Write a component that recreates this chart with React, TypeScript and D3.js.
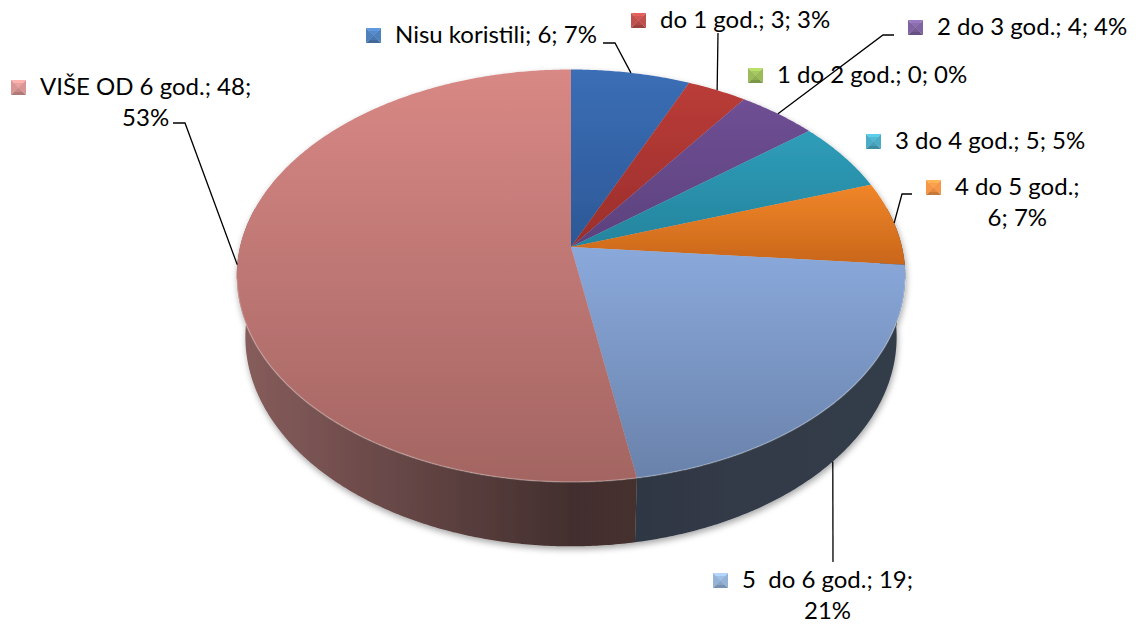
import React from "react";
import * as d3 from "d3";

// podaci s grafikona
const categories = [
  "Nisu koristili",
  "do 1 god.",
  "1 do 2 god.",
  "2 do 3 god.",
  "3 do 4 god.",
  "4 do 5 god.",
  "5  do 6 god.",
  "VIŠE OD 6 god.",
];
const values = [6, 3, 0, 4, 5, 6, 19, 48];

// boje (gornja ploha: vrh / dno gradijenta, bok)
const topColors = ["#3B6EB6", "#BA3C38", "#9BBB59", "#6F4F94", "#2F9DB9", "#F18629", "#8AA9DB", "#D88885"];
const bottomColors = ["#2C5896", "#9A2E2B", "#7E9A45", "#5C417D", "#24849D", "#C8661A", "#6982AB", "#A36562"];
const sideColors = ["#4F81BD", "#C0504D", "#9BBB59", "#8064A2", "#4BACC6", "#F79646", "#95B3D7", "#D99694"];

// raspored oznaka: x teksta, bazna linija, gdje se lomi u dva reda, početak linije vodilice
const labelLayout = [
  { tx: 395, ty: 43, split: "none", leader: [[603, 43], [615, 43]], edge: "top" },
  { tx: 660, ty: 28, split: "none", leader: [[718, 33]], edge: "top" },
  { tx: 777, ty: 83, split: "none", leader: null, edge: "top" },
  { tx: 937, ty: 35, split: "none", leader: [[894, 35], [883, 35]], edge: "top" },
  { tx: 895, ty: 149, split: "none", leader: null, edge: "top" },
  { tx: 955, ty: 195, split: "name", leader: [[912, 194], [902, 194]], edge: "top" },
  { tx: 742, ty: 588, split: "value", leader: [[833, 562]], edge: "bottom" },
  { tx: 40, ty: 95, split: "value", leader: [[173, 123], [185, 123]], edge: "top" },
];

const W = 1139;
const H = 624;
const CX = 571;
const CY = 247;
const F = 1880;
const DIST = 5.68;
const SIN = 0.611;
const COS = Math.sqrt(1 - SIN * SIN);
const THICK = 0.241;
const FONT = "Lato, 'Open Sans', sans-serif";

// perspektivna projekcija točke na disku
function project(a: number, r: number, y: number): [number, number] {
  const X = r * Math.sin(a);
  const Z = r * Math.cos(a);
  const depth = DIST - y * SIN + Z * COS;
  return [CX + (F * X) / depth, CY - (F * (y * COS + Z * SIN)) / depth];
}

function shade(c: string, f: number) {
  const rgb = d3.rgb(c);
  return d3.rgb(rgb.r * f, rgb.g * f, rgb.b * f).formatHex();
}

function arcPoints(a0: number, a1: number, y: number) {
  const n = Math.max(2, Math.ceil((a1 - a0) / (Math.PI / 360)));
  return d3.range(n + 1).map((i) => project(a0 + ((a1 - a0) * i) / n, 1, y));
}

const Marker = ({ x, y, color }: { x: number; y: number; color: string }) => {
  const s = 15;
  const c = d3.rgb(color);
  const light = c.brighter(0.5).formatHex();
  const dark = c.darker(0.6).formatHex();
  const mid = c.formatHex();
  const cx = x + s / 2;
  const cy = y + s / 2;
  return (
    <g>
      <polygon points={`${x},${y} ${x + s},${y} ${cx},${cy}`} fill={light} />
      <polygon points={`${x},${y} ${cx},${cy} ${x},${y + s}`} fill={mid} />
      <polygon points={`${x + s},${y} ${cx},${cy} ${x + s},${y + s}`} fill={mid} />
      <polygon points={`${x},${y + s} ${cx},${cy} ${x + s},${y + s}`} fill={dark} />
      <rect x={x + 3} y={y + 3} width={s - 6} height={s - 6} fill={mid} opacity={0.6} />
    </g>
  );
};

// drugi red centriran ispod prvog
function TwoLines({ x, y, first, second }: { x: number; y: number; first: string; second: string }) {
  const ref = React.useRef<SVGTextElement>(null);
  const [w, setW] = React.useState(0);
  React.useEffect(() => {
    if (ref.current) setW(ref.current.getComputedTextLength());
  }, [first]);
  return (
    <g>
      <text ref={ref} x={x} y={y} style={{ whiteSpace: "pre" }}>
        {first}
      </text>
      <text x={x + w / 2} y={y + 31} textAnchor="middle" opacity={w ? 1 : 0}>
        {second}
      </text>
    </g>
  );
}

export default function App() {
  const total = d3.sum(values);
  const slices = d3
    .pie<number>()
    .sort(null)
    .value((d) => d)(values);

  const line = d3.line<[number, number]>();

  const lo = Math.PI / 2 - 0.2;
  const hi = (3 * Math.PI) / 2 + 0.2;
  const sides = slices
    .map((s, i) => {
      const a = Math.max(s.startAngle, lo);
      const b = Math.min(s.endAngle, hi);
      if (b - a <= 0) return null;
      const pts = [...arcPoints(a, b, 0), ...arcPoints(a, b, -THICK).reverse()];
      return { d: line(pts) + "Z", i };
    })
    .filter(Boolean) as { d: string; i: number }[];

  const apex = project(0, 0, 0);
  const tops = slices.map((s, i) => {
    if (s.endAngle - s.startAngle <= 0) return null;
    const pts = [apex, ...arcPoints(s.startAngle, s.endAngle, 0)];
    return { d: line(pts) + "Z", i };
  });

  const rim = line(arcPoints(Math.PI * 0.55, Math.PI * 1.45, 0));
  const left = project((3 * Math.PI) / 2, 1, 0)[0];
  const right = project(Math.PI / 2, 1, 0)[0];

  return (
    <svg width={W} height={H} style={{ position: "absolute", left: 0, top: 0, background: "#fff" }}>
      <defs>
        {categories.map((c, i) => (
          <linearGradient key={c} id={`g${i}`} x1="0" y1="0" x2="0" y2="1">
            <stop offset="0" stopColor={topColors[i]} />
            <stop offset="1" stopColor={bottomColors[i]} />
          </linearGradient>
        ))}
        {categories.map((c, i) => (
          <linearGradient key={c} id={`s${i}`} gradientUnits="userSpaceOnUse" x1={left} y1="0" x2={right} y2="0">
            <stop offset="0" stopColor={shade(sideColors[i], 0.62)} />
            <stop offset="0.5" stopColor={shade(sideColors[i], 0.31)} />
            <stop offset="1" stopColor={shade(sideColors[i], 0.34)} />
          </linearGradient>
        ))}
        <filter id="shadow" x="-10%" y="-10%" width="120%" height="130%">
          <feDropShadow dx="1" dy="3" stdDeviation="3" floodColor="#000" floodOpacity="0.35" />
        </filter>
      </defs>

      <g filter="url(#shadow)">
        {sides.map((s) => (
          <path key={s.i} d={s.d} fill={`url(#s${s.i})`} />
        ))}
        {tops.map((t) => t && <path key={t.i} d={t.d} fill={`url(#g${t.i})`} />)}
      </g>
      <path d={rim ?? ""} fill="none" stroke="#fff" strokeOpacity={0.25} strokeWidth={1.5} />

      {/* linije vodilice */}
      {slices.map((s, i) => {
        const lay = labelLayout[i];
        if (!lay.leader) return null;
        const mid = (s.startAngle + s.endAngle) / 2;
        const end = project(mid, 1, lay.edge === "bottom" ? -THICK : 0);
        const pts = [...(lay.leader as [number, number][]), end];
        return <path key={i} d={line(pts) ?? ""} fill="none" stroke="#000" strokeWidth={1.3} />;
      })}

      {/* oznake */}
      {categories.map((c, i) => {
        const lay = labelLayout[i];
        const pct = Math.round((values[i] / total) * 100) + "%";
        return (
          <g key={c} fontFamily={FONT} fontSize={24} fill="#000">
            <Marker x={lay.tx - 29} y={lay.ty - 15} color={sideColors[i]} />
            {lay.split === "none" && (
              <text x={lay.tx} y={lay.ty} style={{ whiteSpace: "pre" }}>
                {`${c}; ${values[i]}; ${pct}`}
              </text>
            )}
            {lay.split === "name" && <TwoLines x={lay.tx} y={lay.ty} first={`${c};`} second={`${values[i]}; ${pct}`} />}
            {lay.split === "value" && (
              <TwoLines x={lay.tx} y={lay.ty} first={`${c}; ${values[i]};`} second={pct} />
            )}
          </g>
        );
      })}
    </svg>
  );
}
